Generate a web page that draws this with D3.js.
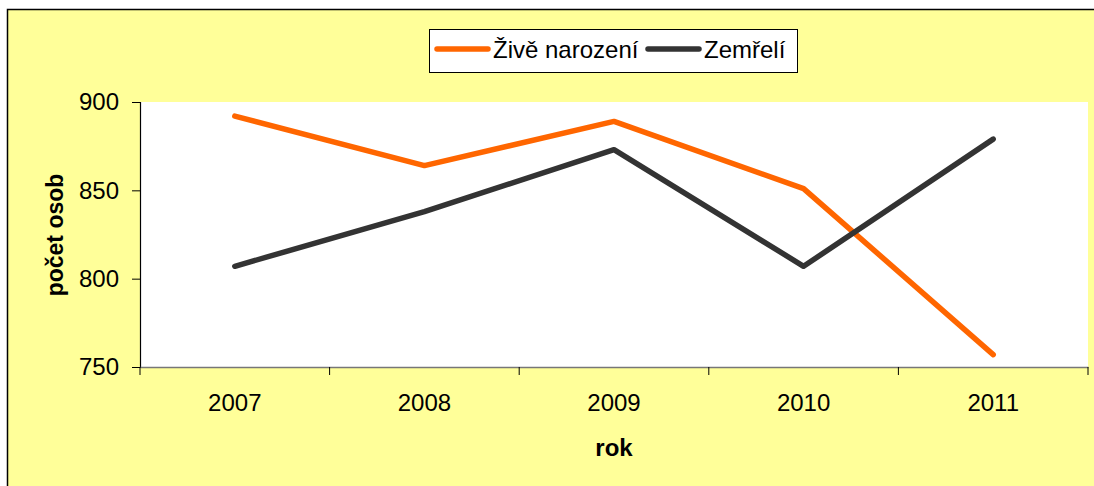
<!DOCTYPE html>
<html><head><meta charset="utf-8">
<script src="https://cdn.jsdelivr.net/npm/d3@7"></script>
<style>html,body{margin:0;padding:0;background:#fff;}svg{display:block;font-family:"Liberation Sans",Arial,sans-serif;}</style>
</head><body>
<svg id="c" width="1094" height="486"></svg>
<script>
const years = ["2007","2008","2009","2010","2011"];
const births = [892, 864, 889, 851, 757];
const deaths = [807, 838, 873, 807, 879];
const yTicks = [750, 800, 850, 900];
const seriesNames = ["Živě narození", "Zemřelí"];
const seriesColors = ["#FF6600", "#333333"];

const svg = d3.select("#c");
svg.append("rect").attr("x",7.5).attr("y",9.5).attr("width",1100).attr("height",500)
  .attr("fill","#FFFF99").attr("stroke","#000").attr("stroke-width",1.5);

const m = {l:140, r:1088, t:102, b:367};
svg.append("rect").attr("x",m.l).attr("y",m.t).attr("width",m.r-m.l).attr("height",m.b-m.t).attr("fill","#fff");

const x = d3.scaleBand().domain(years).range([m.l, m.r]);
const y = d3.scaleLinear().domain([750, 900]).range([m.b, m.t]);

// y axis
const ya = svg.append("g").attr("transform",`translate(${m.l},0)`)
  .call(d3.axisLeft(y).tickValues(yTicks).tickSize(8).tickPadding(13));
ya.select(".domain").attr("stroke","#000").attr("stroke-width",1.2);
ya.selectAll(".tick line").attr("stroke","#000");
ya.selectAll("text").attr("font-size",24).attr("fill","#000").attr("font-family","Liberation Sans, Arial, sans-serif");

// x axis
const xa = svg.append("g").attr("transform",`translate(0,${m.b})`)
  .call(d3.axisBottom(x).tickSize(0).tickPadding(27));
xa.select(".domain").attr("stroke","#777").attr("stroke-width",1.5);
xa.selectAll("text").attr("font-size",24).attr("fill","#000").attr("font-family","Liberation Sans, Arial, sans-serif");
// boundary ticks
const bounds = years.map(d => x(d)).concat([m.r]);
svg.append("g").selectAll("line").data(bounds).join("line")
  .attr("x1",d=>d).attr("x2",d=>d).attr("y1",m.b).attr("y2",m.b+8).attr("stroke","#000");

// lines
const line = d3.line().x((d,i)=>x(years[i])+x.bandwidth()/2).y(d=>y(d));
[births, deaths].forEach((s,i)=>{
  svg.append("path").datum(s).attr("d",line).attr("fill","none")
    .attr("stroke",seriesColors[i]).attr("stroke-width",5.5)
    .attr("stroke-linecap","round").attr("stroke-linejoin","round");
});

// axis titles
svg.append("text").attr("x",614).attr("y",456).attr("text-anchor","middle")
  .attr("font-size",24).attr("font-weight","bold").text("rok");
svg.append("text").attr("transform","translate(63,235) rotate(-90)").attr("text-anchor","middle")
  .attr("font-size",23).attr("font-weight","bold").text("počet osob");

// legend
const lg = svg.append("g");
lg.append("rect").attr("x",429.5).attr("y",29.5).attr("width",368).attr("height",43)
  .attr("fill","#fff").attr("stroke","#000").attr("stroke-width",1);
const lx = [437, 648];
seriesNames.forEach((n,i)=>{
  lg.append("line").attr("x1",lx[i]).attr("x2",lx[i]+51).attr("y1",49).attr("y2",49)
    .attr("stroke",seriesColors[i]).attr("stroke-width",5.5).attr("stroke-linecap","round");
  lg.append("text").attr("x",lx[i]+56).attr("y",58).attr("font-size",24).text(n);
});
</script>
</body></html>
